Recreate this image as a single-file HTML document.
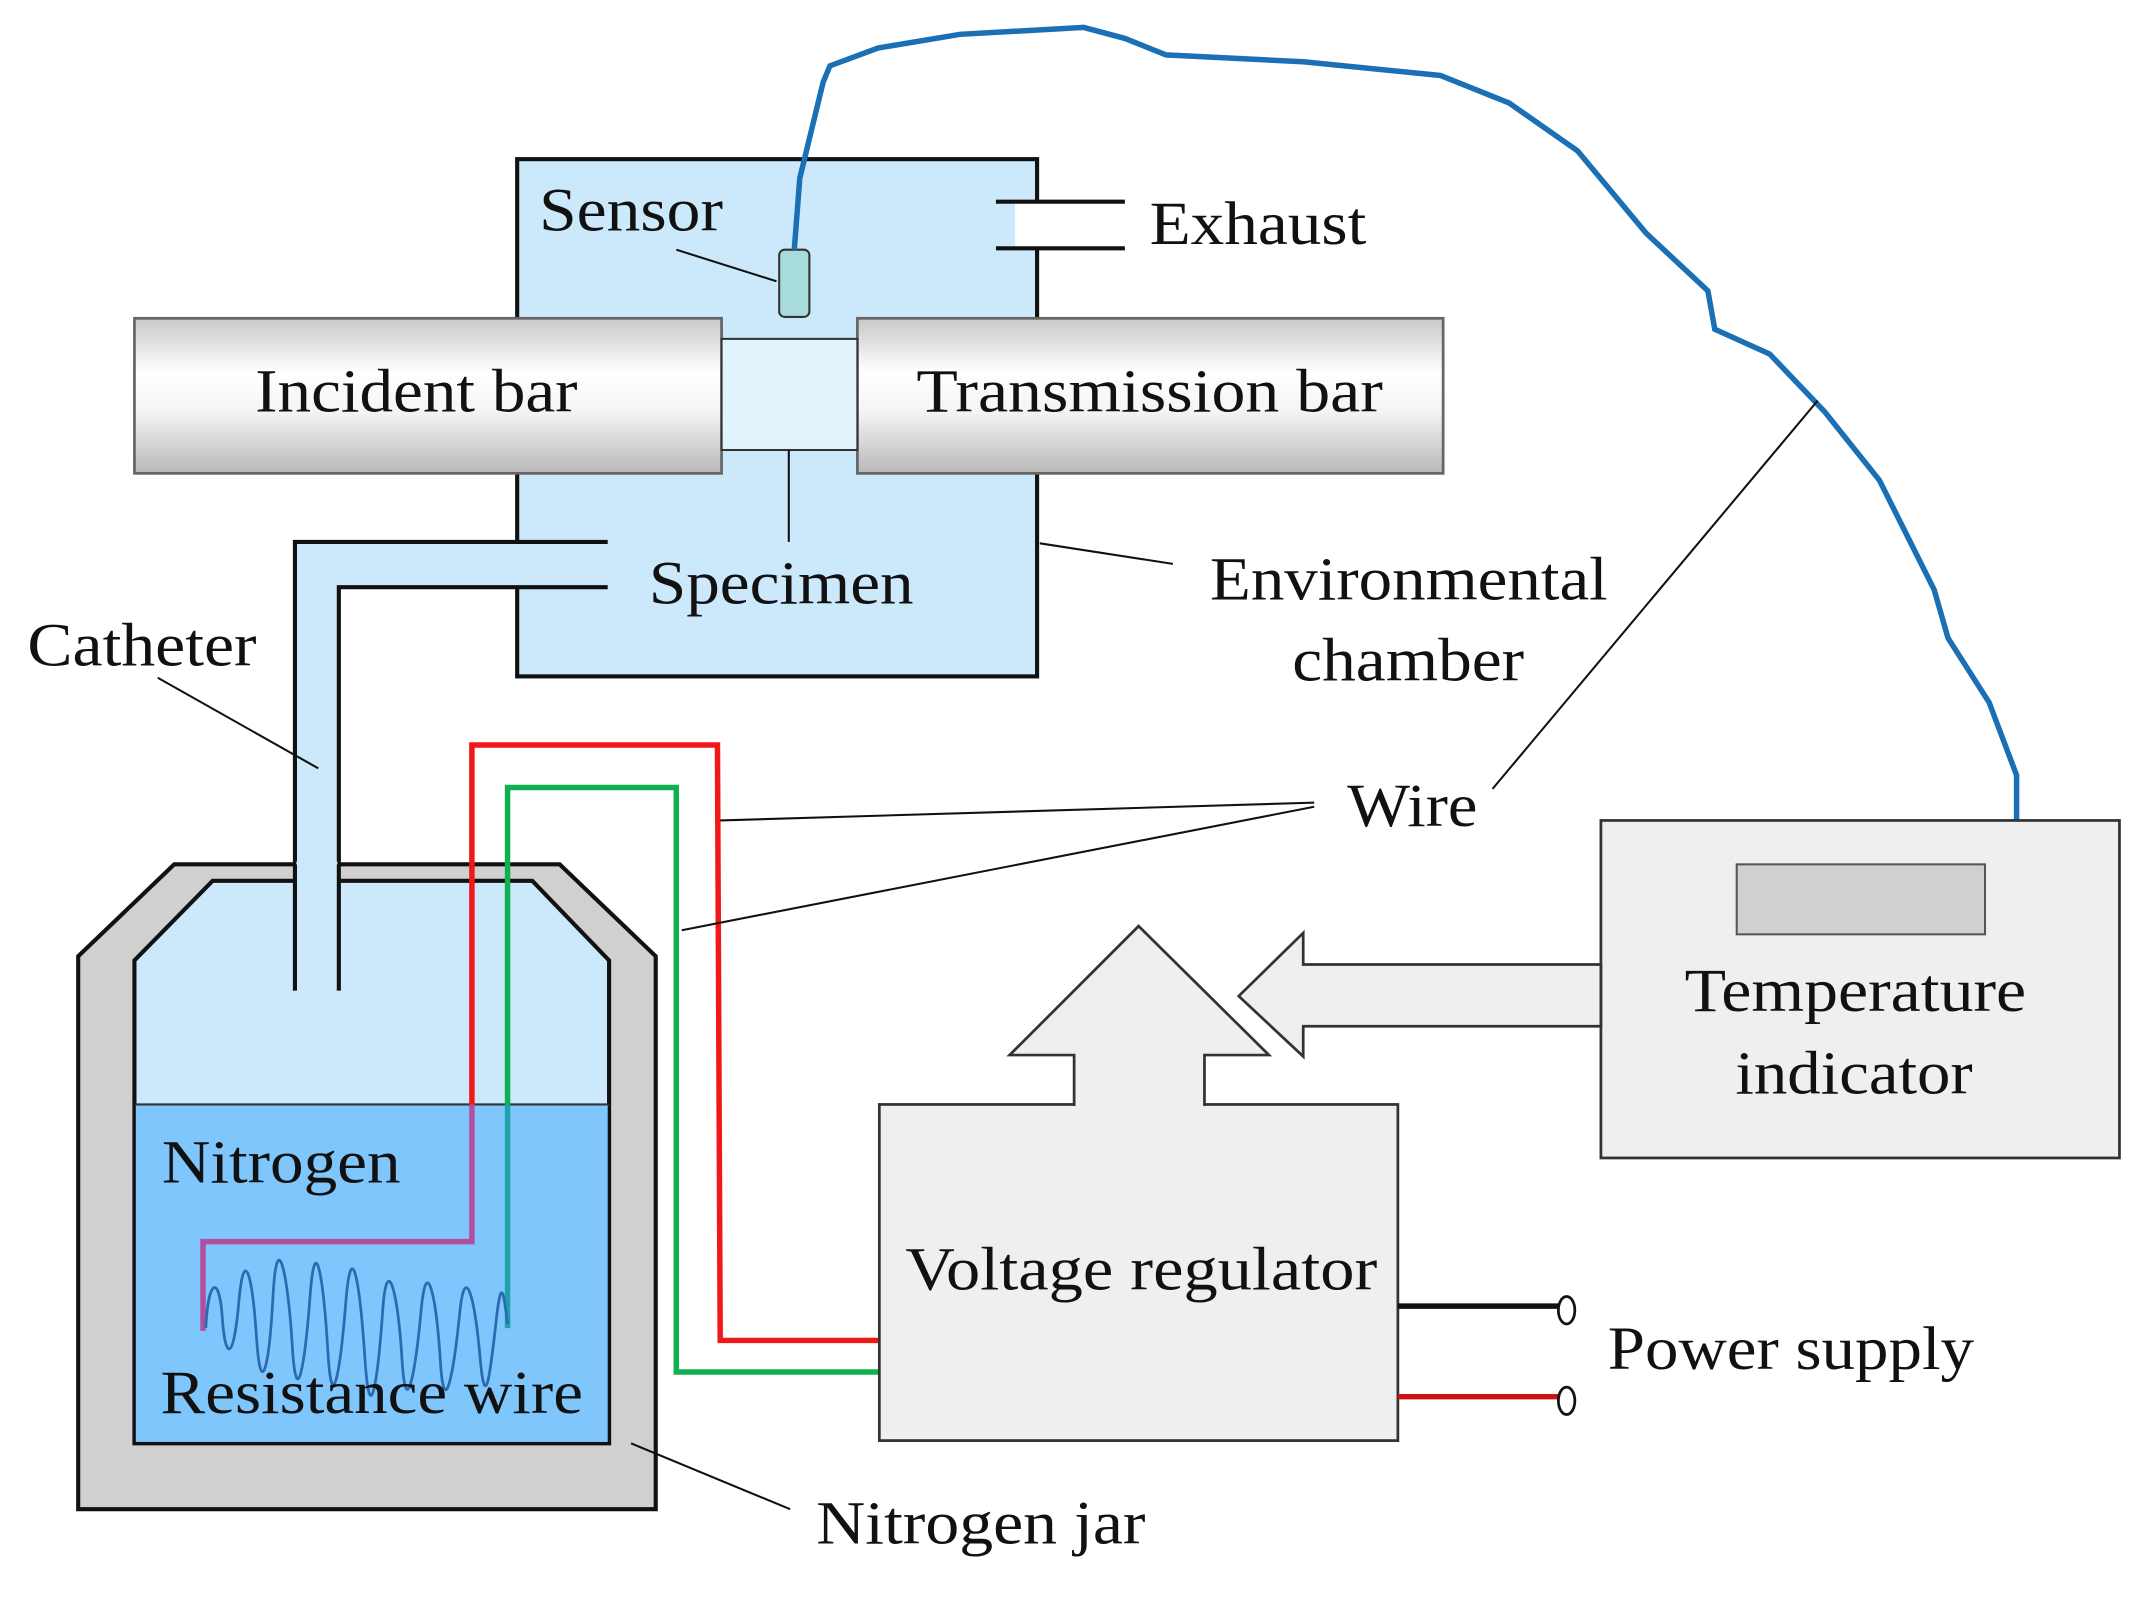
<!DOCTYPE html>
<html><head><meta charset="utf-8"><style>html,body{margin:0;padding:0;background:#fff}svg{display:block}text{font-family:"Liberation Serif",serif;font-size:45px;fill:#111}</style></head><body>
<svg width="2151" height="1597" viewBox="0 0 1568 1164" preserveAspectRatio="none" xmlns="http://www.w3.org/2000/svg">
<defs>
<linearGradient id="bar" x1="0" y1="0" x2="0" y2="1">
<stop offset="0" stop-color="#c8c8c8"/><stop offset="0.35" stop-color="#ffffff"/><stop offset="0.6" stop-color="#f4f4f4"/><stop offset="1" stop-color="#b8b8b8"/>
</linearGradient>
</defs>
<rect x="377" y="116" width="379" height="377" fill="#cce9fb" stroke="#111" stroke-width="3"/>
<rect x="740" y="148" width="80" height="32" fill="#fff"/>
<line x1="726" y1="147" x2="820" y2="147" stroke="#111" stroke-width="3"/>
<line x1="726" y1="181" x2="820" y2="181" stroke="#111" stroke-width="3"/>
<text x="838" y="178" textLength="158" lengthAdjust="spacingAndGlyphs">Exhaust</text>
<rect x="98" y="232" width="428" height="113" fill="url(#bar)" stroke="#666" stroke-width="2"/>
<rect x="625" y="232" width="427" height="113" fill="url(#bar)" stroke="#666" stroke-width="2"/>
<rect x="526" y="247" width="99" height="81" fill="#e2f4fb" stroke="#333" stroke-width="1.5"/>
<text x="186" y="300" textLength="235" lengthAdjust="spacingAndGlyphs">Incident bar</text>
<text x="668" y="300" textLength="340" lengthAdjust="spacingAndGlyphs">Transmission bar</text>
<rect x="568" y="182" width="22" height="49" rx="4" fill="#a8dcdc" stroke="#333" stroke-width="1.5"/>
<path d="M579 182 L583 130 L600 60 L605 48 L640 35 L700 25 L790 20 L820 28 L850 40 L950 45 L1050 55 L1100 75 L1150 110 L1200 170 L1245 212 L1250 240 L1290 258 L1330 300 L1370 350 L1410 430 L1420 465 L1450 512 L1470 565 L1470 598" fill="none" stroke="#1a6fb5" stroke-width="4"/>
<text x="393" y="168" textLength="134" lengthAdjust="spacingAndGlyphs">Sensor</text>
<line x1="493" y1="182" x2="566" y2="205" stroke="#111" stroke-width="1.5"/>
<line x1="575" y1="328" x2="575" y2="395" stroke="#111" stroke-width="1.5"/>
<text x="473" y="440" textLength="193" lengthAdjust="spacingAndGlyphs">Specimen</text>
<line x1="758" y1="396" x2="855" y2="411" stroke="#111" stroke-width="1.5"/>
<text x="882" y="437" textLength="290" lengthAdjust="spacingAndGlyphs">Environmental</text>
<text x="942" y="496" textLength="169" lengthAdjust="spacingAndGlyphs">chamber</text>
<path d="M215 722 L215 395 L443 395 L443 428 L247 428 L247 722 Z" fill="#cce9fb"/>
<path d="M215 722 L215 395 L443 395" fill="none" stroke="#111" stroke-width="3"/>
<path d="M247 722 L247 428 L443 428" fill="none" stroke="#111" stroke-width="3"/>
<text x="20" y="485" textLength="167" lengthAdjust="spacingAndGlyphs">Catheter</text>
<line x1="115" y1="494" x2="232" y2="560" stroke="#111" stroke-width="1.5"/>
<polygon points="57,697 127,630 408,630 478,697 478,1100 57,1100" fill="#d0d0d0" stroke="#111" stroke-width="3"/>
<polygon points="98,700 155,642 388,642 444,700 444,1052 98,1052" fill="#cce9fb" stroke="#111" stroke-width="3"/>
<rect x="99" y="805" width="344" height="246" fill="#7ec6fc"/>
<line x1="98" y1="805" x2="444" y2="805" stroke="#333" stroke-width="1.5"/>
<rect x="216" y="628" width="30" height="22" fill="#cce9fb"/>
<line x1="215" y1="630" x2="215" y2="722" stroke="#111" stroke-width="3"/>
<line x1="247" y1="630" x2="247" y2="722" stroke="#111" stroke-width="3"/>
<text x="118" y="862" textLength="174" lengthAdjust="spacingAndGlyphs">Nitrogen</text>
<path d="M344 805 L344 543 L523 543 L525 977 L641 977" fill="none" stroke="#f01818" stroke-width="4"/>
<path d="M148 970 L148 905 L344 905 L344 805" fill="none" stroke="#b050a0" stroke-width="4"/>
<path d="M370 805 L370 574 L493 574 L493 1000 L641 1000" fill="none" stroke="#10b050" stroke-width="4"/>
<path d="M370 805 L370 968" fill="none" stroke="#20a0a8" stroke-width="4"/>
<path d="M150 968 C152 930,160 930,162 960 S170 995,174 950 S184 930,187 975 S196 1000,199 945 S210 930,213 980 S222 998,226 945 S236 935,239 985 S248 1000,252 950 S262 930,266 990 S276 998,279 955 S290 940,293 990 S303 998,307 955 S318 945,321 992 S331 998,335 958 S346 945,350 990 S358 995,362 960 S368 950,370 965" fill="none" stroke="#2a6ab0" stroke-width="2"/>
<text x="117" y="1030" textLength="308" lengthAdjust="spacingAndGlyphs">Resistance wire</text>
<line x1="460" y1="1052" x2="576" y2="1100" stroke="#111" stroke-width="1.5"/>
<text x="595" y="1125" textLength="240" lengthAdjust="spacingAndGlyphs">Nitrogen jar</text>
<text x="982" y="602" textLength="95" lengthAdjust="spacingAndGlyphs">Wire</text>
<line x1="958" y1="585" x2="525" y2="598" stroke="#111" stroke-width="1.5"/>
<line x1="958" y1="588" x2="497" y2="678" stroke="#111" stroke-width="1.5"/>
<line x1="1088" y1="575" x2="1325" y2="292" stroke="#111" stroke-width="1.5"/>
<rect x="1167" y="598" width="378" height="246" fill="#efefef" stroke="#333" stroke-width="2"/>
<rect x="1266" y="630" width="181" height="51" fill="#d0d0d0" stroke="#555" stroke-width="1.5"/>
<text x="1228" y="737" textLength="249" lengthAdjust="spacingAndGlyphs">Temperature</text>
<text x="1265" y="797" textLength="173" lengthAdjust="spacingAndGlyphs">indicator</text>
<polygon points="1167,703 950,703 950,680 903,726 950,770 950,748 1167,748" fill="#efefef" stroke="#333" stroke-width="2"/>
<rect x="641" y="805" width="378" height="245" fill="#efefef" stroke="#333" stroke-width="2"/>
<polygon points="783,805 783,769 736,769 830,675 925,769 878,769 878,805" fill="#efefef" stroke="#333" stroke-width="2"/>
<line x1="784" y1="805" x2="877" y2="805" stroke="#efefef" stroke-width="3"/>
<text x="660" y="940" textLength="344" lengthAdjust="spacingAndGlyphs">Voltage regulator</text>
<line x1="1019" y1="952" x2="1137" y2="952" stroke="#111" stroke-width="4"/>
<ellipse cx="1142" cy="955" rx="6" ry="10" fill="#fff" stroke="#111" stroke-width="2"/>
<line x1="1019" y1="1018" x2="1137" y2="1018" stroke="#d01010" stroke-width="4"/>
<ellipse cx="1142" cy="1021" rx="6" ry="10" fill="#fff" stroke="#111" stroke-width="2"/>
<text x="1172" y="998" textLength="267" lengthAdjust="spacingAndGlyphs">Power supply</text>
</svg>
</body></html>
